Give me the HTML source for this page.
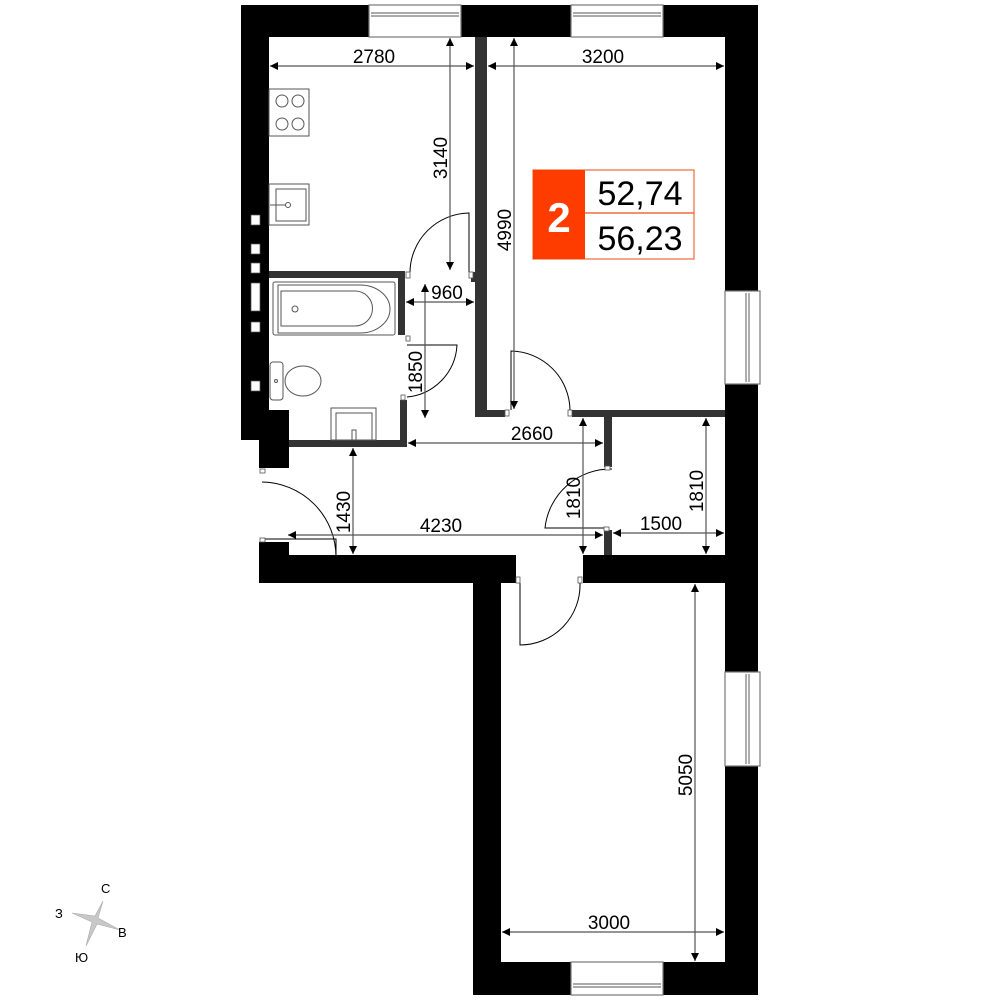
<!DOCTYPE html>
<html><head><meta charset="utf-8"><style>
html,body{margin:0;padding:0;background:#fff;}
svg{display:block}
text{font-family:"Liberation Sans","DejaVu Sans",sans-serif;}
</style></head><body>
<svg width="1000" height="1000" viewBox="0 0 1000 1000" xmlns="http://www.w3.org/2000/svg">
<defs>
<marker id="a" viewBox="0 0 10 10" refX="10" refY="5" markerWidth="14" markerHeight="8" markerUnits="userSpaceOnUse" orient="auto-start-reverse"><path d="M0,0L10,5L0,10z" fill="#000"/></marker>
</defs>
<!-- outer walls -->
<g fill="#000">
<rect x="241" y="5" width="514" height="32"/>
<rect x="241" y="5" width="28" height="435"/>
<rect x="241" y="410" width="48" height="30"/>
<rect x="259" y="440" width="30" height="28"/>
<rect x="725" y="5" width="33" height="550"/>
<rect x="259" y="555" width="257" height="28"/>
<rect x="583" y="555" width="175" height="28"/>
<rect x="259" y="542" width="30" height="14"/>
<rect x="473" y="555" width="28" height="440"/>
<rect x="725" y="555" width="33" height="440"/>
<rect x="473" y="962" width="285" height="33"/>
</g>
<!-- left wall notches -->
<g fill="#fff" stroke="#555" stroke-width="0.7">
<rect x="251" y="215" width="9" height="10"/>
<rect x="251" y="244" width="9" height="10"/>
<rect x="251" y="263" width="9" height="10"/>
<rect x="251" y="283" width="9" height="28"/>
<rect x="251" y="322" width="9" height="10"/>
<rect x="251" y="381" width="9" height="10"/>
</g>
<!-- windows -->
<g fill="#fff" stroke="#777" stroke-width="1.2">
<rect x="369" y="5" width="92" height="32"/>
<line x1="371" y1="13" x2="459" y2="13"/><line x1="371" y1="16" x2="459" y2="16"/>
<rect x="571" y="5" width="92" height="32"/>
<line x1="573" y1="13" x2="661" y2="13"/><line x1="573" y1="16" x2="661" y2="16"/>
<rect x="725" y="291" width="35" height="93"/>
<line x1="746" y1="293" x2="746" y2="382"/><line x1="749" y1="293" x2="749" y2="382"/>
<rect x="725" y="672" width="35" height="94"/>
<line x1="746" y1="674" x2="746" y2="764"/><line x1="749" y1="674" x2="749" y2="764"/>
<rect x="571" y="962" width="92" height="33"/>
<line x1="573" y1="984" x2="661" y2="984"/><line x1="573" y1="987" x2="661" y2="987"/>
</g>
<!-- interior walls -->
<g fill="#333">
<rect x="475" y="37" width="12" height="380"/>
<rect x="475" y="410" width="30" height="7"/>
<rect x="572" y="410" width="153" height="7"/>
<rect x="269" y="271" width="136" height="7"/>
<rect x="398" y="271" width="7" height="64"/>
<rect x="400" y="400" width="7" height="47"/>
<rect x="289" y="440" width="118" height="7"/>
<rect x="604" y="417" width="8" height="50"/>
<rect x="604" y="530" width="8" height="25"/>
<rect x="471" y="272" width="6" height="10"/>
</g>
<!-- kitchen fixtures -->
<g fill="#fff" stroke="#555" stroke-width="1">
<rect x="269" y="89" width="40" height="47"/>
<circle cx="282" cy="101" r="6"/><circle cx="298" cy="101" r="6"/>
<circle cx="282" cy="124" r="6"/><circle cx="298" cy="124" r="6"/>
<rect x="269" y="184" width="40" height="41"/>
<rect x="276" y="189" width="30" height="32"/>
<line x1="270" y1="205" x2="288" y2="205"/><circle cx="288" cy="205" r="2.5"/>
<!-- bath -->
<rect x="273" y="282" width="122" height="53" rx="2"/>
<path d="M278,285 H360 A30,24 0 0 1 360,333 H278 Z"/>
<path d="M281,291 H355 A17,17 0 0 1 355,326 H281 Z"/>
<circle cx="295" cy="309" r="3"/>
<!-- toilet -->
<rect x="270" y="362" width="13" height="38" rx="3"/>
<ellipse cx="303" cy="381" rx="18" ry="15"/>
<circle cx="276" cy="381" r="1.5"/>
<!-- sink -->
<rect x="331" y="408" width="45" height="32"/>
<rect x="336" y="413" width="36" height="27"/>
<rect x="352" y="430" width="4" height="10"/>
</g>
<!-- doors -->
<g fill="none" stroke="#000" stroke-width="1">
<path d="M469,272 V213 A60,60 0 0 0 410,272"/>
<path d="M407,345 H457 A55,55 0 0 1 407,397"/>
<path d="M511,410 V351 A60,60 0 0 1 570,410"/>
<path d="M612,469 A66,66 0 0 0 545,528 H604"/>
<path d="M262,482 A75,75 0 0 1 336,557 V539 H262"/>
<path d="M580,583 A60,60 0 0 1 520,645 V583"/>
</g>
<g fill="#fff" stroke="#555" stroke-width="0.8">
<rect x="406" y="272" width="4" height="6"/><rect x="469" y="272" width="4" height="6"/>
<rect x="401" y="395" width="4" height="5"/><rect x="406" y="336" width="4" height="5"/>
<rect x="505" y="410" width="4" height="6"/><rect x="568" y="410" width="4" height="6"/>
<rect x="605" y="466" width="5" height="4"/><rect x="604" y="527" width="5" height="4"/>
<rect x="260" y="469" width="5" height="4"/><rect x="260" y="538" width="5" height="4"/>
<rect x="516" y="577" width="4" height="6"/><rect x="578" y="577" width="4" height="6"/>
</g>
<!-- dimension lines -->
<g stroke="#555" stroke-width="1.2" marker-start="url(#a)" marker-end="url(#a)">
<line x1="270" y1="66" x2="474" y2="66"/>
<line x1="488" y1="66" x2="724" y2="66"/>
<line x1="450" y1="38" x2="450" y2="270"/>
<line x1="514" y1="38" x2="514" y2="409"/>
<line x1="406" y1="302" x2="474" y2="302"/>
<line x1="425" y1="284" x2="425" y2="418"/>
<line x1="408" y1="443" x2="603" y2="443"/>
<line x1="353" y1="448" x2="353" y2="554"/>
<line x1="288" y1="535" x2="603" y2="535"/>
<line x1="583" y1="418" x2="583" y2="554"/>
<line x1="613" y1="533" x2="724" y2="533"/>
<line x1="706" y1="418" x2="706" y2="554"/>
<line x1="695" y1="584" x2="695" y2="961"/>
<line x1="502" y1="932" x2="724" y2="932"/>
</g>
<g font-size="19" fill="#000">
<text x="374" y="63" text-anchor="middle">2780</text>
<text x="603" y="63" text-anchor="middle">3200</text>
<text x="447" y="158" transform="rotate(-90 447 158)" text-anchor="middle">3140</text>
<text x="511" y="230" transform="rotate(-90 511 230)" text-anchor="middle">4990</text>
<text x="447" y="299" text-anchor="middle">960</text>
<text x="422" y="372" transform="rotate(-90 422 372)" text-anchor="middle">1850</text>
<text x="532" y="440" text-anchor="middle">2660</text>
<text x="350" y="512" transform="rotate(-90 350 512)" text-anchor="middle">1430</text>
<text x="441" y="532" text-anchor="middle">4230</text>
<text x="580" y="498" transform="rotate(-90 580 498)" text-anchor="middle">1810</text>
<text x="661" y="530" text-anchor="middle">1500</text>
<text x="703" y="491" transform="rotate(-90 703 491)" text-anchor="middle">1810</text>
<text x="692" y="775" transform="rotate(-90 692 775)" text-anchor="middle">5050</text>
<text x="609" y="929" text-anchor="middle">3000</text>
</g>
<!-- badge -->
<rect x="533" y="170" width="161" height="89" fill="#fff" stroke="#f06a3a" stroke-width="1.2"/>
<rect x="533" y="170" width="52" height="89" fill="#ff3c00"/>
<line x1="585" y1="213" x2="694" y2="213" stroke="#f04a1a" stroke-width="1.2"/>
<text x="559" y="232" font-size="42" font-weight="bold" fill="#fff" text-anchor="middle">2</text>
<text x="640" y="205" font-size="34" text-anchor="middle">52,74</text>
<text x="640" y="250" font-size="34" text-anchor="middle">56,23</text>
<!-- compass -->
<path d="M103,901 L98,918 L120,930 L97,924 L86,946 L92,922 L72,913 L95,916 Z" fill="#c8c8c8" stroke="#aaa" stroke-width="0.6"/>
<g font-size="13" fill="#000">
<text x="101" y="893">С</text><text x="55" y="918">З</text>
<text x="118" y="937">В</text><text x="75" y="962">Ю</text>
</g>
</svg>
</body></html>
